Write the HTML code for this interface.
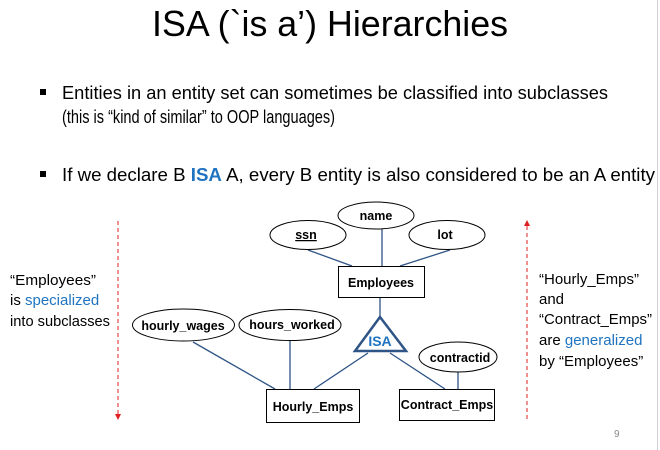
<!DOCTYPE html>
<html><head><meta charset="utf-8"><style>
html,body{margin:0;padding:0;background:#fff;}
svg{display:block;}
</style></head><body>
<svg width="660" height="450" viewBox="0 0 660 450" xmlns="http://www.w3.org/2000/svg">
<rect width="660" height="450" fill="#fff"/>
<line x1="657.5" y1="0" x2="657.5" y2="450" stroke="#d0d0d0" stroke-width="1"/>
<g font-family="Liberation Sans, sans-serif" fill="#000">
<text x="330" y="36" font-size="36" text-anchor="middle" textLength="356" lengthAdjust="spacingAndGlyphs">ISA (`is a’) Hierarchies</text>
<rect x="40" y="89" width="6" height="6"/>
<text x="62" y="99" font-size="18" textLength="546" lengthAdjust="spacingAndGlyphs">Entities in an entity set can sometimes be classified into subclasses</text>
<text x="62" y="123" font-size="18" textLength="273" lengthAdjust="spacingAndGlyphs">(this is “kind of similar” to OOP languages)</text>
<rect x="40" y="171" width="6" height="6"/>
<text x="62" y="181" font-size="18" textLength="593" lengthAdjust="spacingAndGlyphs">If we declare B <tspan fill="#1f73c0" font-weight="bold">ISA</tspan> A, every B entity is also considered to be an A entity</text>

<g font-size="15">
<text x="10" y="285" textLength="86" lengthAdjust="spacingAndGlyphs">“Employees”</text>
<text x="10" y="305">is <tspan fill="#1f73c0">specialized</tspan></text>
<text x="10" y="326" textLength="100" lengthAdjust="spacingAndGlyphs">into subclasses</text>
<text x="539" y="284">“Hourly_Emps”</text>
<text x="539" y="304">and</text>
<text x="539" y="324" textLength="113" lengthAdjust="spacingAndGlyphs">“Contract_Emps”</text>
<text x="539" y="345">are <tspan fill="#1f73c0">generalized</tspan></text>
<text x="539" y="366">by “Employees”</text>
</g>
<text x="614" y="437" font-size="10" fill="#888">9</text>
</g>

<g stroke="#e02020" stroke-width="1" fill="#e02020">
<line x1="118" y1="221" x2="118" y2="414" stroke-dasharray="4,3"/>
<path d="M115,414 L121,414 L118,420 Z" stroke="none"/>
<line x1="527" y1="226" x2="527" y2="420" stroke-dasharray="4,3"/>
<path d="M524,226 L530,226 L527,220 Z" stroke="none"/>
</g>

<g stroke="#2f5486" stroke-width="1.3" fill="none">
<line x1="308" y1="250" x2="352" y2="266"/>
<line x1="382" y1="229" x2="382" y2="266"/>
<line x1="450" y1="250" x2="400" y2="266"/>
<line x1="380" y1="297" x2="380" y2="317"/>
<line x1="193" y1="342" x2="275" y2="389"/>
<line x1="290" y1="340" x2="290" y2="389"/>
<line x1="368" y1="353" x2="314" y2="389"/>
<line x1="390" y1="353" x2="445" y2="389"/>
<line x1="458" y1="372" x2="458" y2="389"/>
</g>
<path d="M380,317 L406,351 L355,351 Z" fill="#fff" stroke="#2f5486" stroke-width="2.5" stroke-linejoin="miter"/>

<g fill="#fff" stroke="#000" stroke-width="1">
<ellipse cx="376" cy="215.5" rx="38" ry="13.5"/>
<ellipse cx="308" cy="235" rx="38" ry="14.5"/>
<ellipse cx="447" cy="235" rx="38" ry="14.5"/>
<rect x="338.5" y="266.5" width="86" height="31"/>
<ellipse cx="183.5" cy="325" rx="51" ry="16"/>
<ellipse cx="290" cy="325" rx="51" ry="15.5"/>
<ellipse cx="458" cy="357" rx="39" ry="15"/>
<rect x="266.5" y="389.5" width="93" height="33"/>
<rect x="399.5" y="389.5" width="95" height="31"/>
</g>

<g font-family="Liberation Sans, sans-serif" font-weight="bold" font-size="12.5" text-anchor="middle" fill="#000">
<text x="376" y="220">name</text>
<text x="306" y="239" text-decoration="underline">ssn</text>
<text x="445" y="239">lot</text>
<text x="381" y="287">Employees</text>
<text x="183" y="330">hourly_wages</text>
<text x="292" y="329">hours_worked</text>
<text x="460" y="362">contractid</text>
<text x="313" y="411">Hourly_Emps</text>
<text x="447" y="409">Contract_Emps</text>
<text x="380" y="346" fill="#1f73c0" font-size="14">ISA</text>
</g>
</svg>
</body></html>
